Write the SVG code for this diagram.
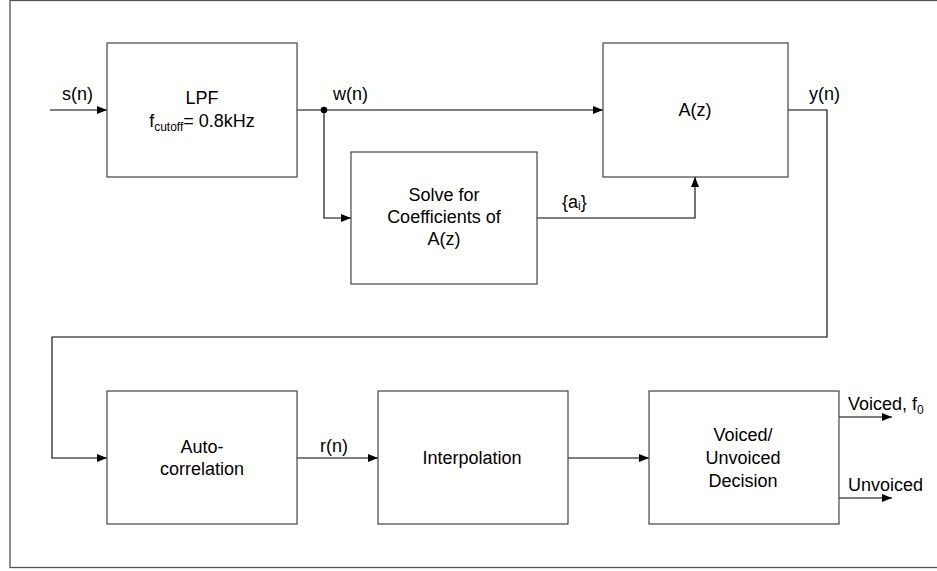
<svg xmlns="http://www.w3.org/2000/svg" width="937" height="571" viewBox="0 0 937 571">
<style>
.box{fill:#fff;stroke:#444;stroke-width:1.2}
.ln{fill:none;stroke:#000;stroke-width:1.1}
text{font-family:"Liberation Sans",Arial,sans-serif;font-size:18px;fill:#000}
.c{text-anchor:middle}
.sub{font-size:12px}
</style>
<defs>
<marker id="ah" viewBox="0 0 10 8" refX="10" refY="4" markerWidth="10" markerHeight="8" markerUnits="userSpaceOnUse" orient="auto">
<path d="M0,0 L10,4 L0,8 z" fill="#000"/>
</marker>
</defs>
<rect x="0" y="0" width="937" height="571" fill="#fff"/>
<rect id="frame" x="10" y="0.5" width="930" height="567" fill="none" stroke="#555" stroke-width="1.3"/>
<g id="connectors">
<path class="ln" d="M50,110 H107" marker-end="url(#ah)"/>
<path class="ln" d="M297,110 H603" marker-end="url(#ah)"/>
<path class="ln" d="M324,110 V218 H351" marker-end="url(#ah)"/>
<path class="ln" d="M537,218 H695 V177" marker-end="url(#ah)"/>
<path class="ln" d="M788,110 H827 V337 H52 V458 H107" marker-end="url(#ah)"/>
<path class="ln" d="M297,458 H378" marker-end="url(#ah)"/>
<path class="ln" d="M568,458 H649" marker-end="url(#ah)"/>
<path class="ln" d="M839,417 H892" marker-end="url(#ah)"/>
<path class="ln" d="M839,498 H892" marker-end="url(#ah)"/>
<circle cx="324" cy="110" r="3.3" fill="#000"/>
<text x="62" y="100">s(n)</text>
<text x="333" y="100">w(n)</text>
<text x="809" y="100">y(n)</text>
<text x="562" y="208">{a<tspan class="sub" dy="2">i</tspan><tspan dy="-2">}</tspan></text>
<text x="320" y="452">r(n)</text>
<text x="848" y="410">Voiced, f<tspan class="sub" dy="4">0</tspan></text>
<text x="848" y="491">Unvoiced</text>
</g>
<g id="lpf">
<rect class="box" x="107" y="43" width="190" height="134"/>
<text class="c" x="202" y="104">LPF</text>
<text class="c" x="202" y="127">f<tspan class="sub" dy="4">cutoff</tspan><tspan dy="-4">= 0.8kHz</tspan></text>
</g>
<g id="az">
<rect class="box" x="603" y="43" width="185" height="134"/>
<text class="c" x="695" y="116">A(z)</text>
</g>
<g id="solve">
<rect class="box" x="351" y="152" width="186" height="132"/>
<text class="c" x="444" y="201">Solve for</text>
<text class="c" x="444" y="223">Coefficients of</text>
<text class="c" x="444" y="245">A(z)</text>
</g>
<g id="autocorr">
<rect class="box" x="107" y="391" width="190" height="133"/>
<text class="c" x="202" y="453">Auto-</text>
<text class="c" x="202" y="475">correlation</text>
</g>
<g id="interp">
<rect class="box" x="378" y="391" width="190" height="133"/>
<text class="c" x="472" y="464">Interpolation</text>
</g>
<g id="vuv">
<rect class="box" x="649" y="391" width="190" height="133"/>
<text class="c" x="743" y="441">Voiced/</text>
<text class="c" x="743" y="464">Unvoiced</text>
<text class="c" x="743" y="487">Decision</text>
</g>
</svg>
